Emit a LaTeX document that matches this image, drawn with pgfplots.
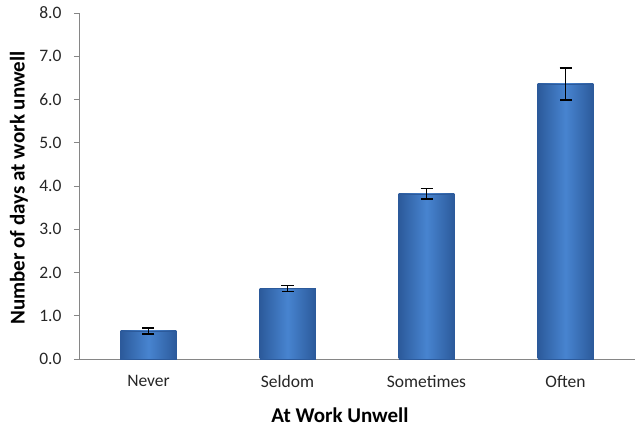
\documentclass[border=0pt]{standalone}
\usepackage{fontspec}
\setmainfont{Carlito}
\usepackage{pgfplots}
\pgfplotsset{compat=1.18}
\usetikzlibrary{calc}
\definecolor{axgray}{RGB}{134,134,134}
\definecolor{bedge}{RGB}{44,90,155}
\definecolor{bmid}{RGB}{72,132,208}
\tikzset{mybar/.style={draw=bedge, left color=bedge, right color=bedge, middle color=bmid}}
\begin{document}
\begin{tikzpicture}
\begin{axis}[
  scale only axis,
  width=556pt, height=346pt,
  ybar, bar width=0.40, bar shift=0pt,
  xmin=-0.5, xmax=3.5,
  ymin=0, ymax=8,
  ytick={0,1,...,8},
  xtick={0,1,2,3},
  xticklabels={Never,Seldom,Sometimes,Often},
  extra x ticks={0.5,1.5,2.5},
  extra x tick labels={},
  extra x tick style={tick style={axgray, line width=0.9pt}},
  x tick style={draw=none},
  y tick style={axgray, line width=0.9pt},
  major tick length=5pt,
  tick align=outside,
  axis x line*=bottom, axis y line*=left,
  axis line style={axgray, line width=0.9pt},
  /pgf/number format/assume math mode=true,
  ticklabel style={font=\fontsize{17.5}{20}\selectfont, text=black!85},
  yticklabel style={xshift=-9pt, /pgf/number format/.cd, fixed, fixed zerofill, precision=1},
  xlabel={\textbf{At Work Unwell}},
  ylabel={\textbf{Number of days at work unwell}},
  every axis x label/.style={at={(rel axis cs:0.5,0)}, xshift=-17pt, yshift=-56pt, anchor=center, font=\fontsize{21}{23}\selectfont},
  every axis y label/.style={at={(rel axis cs:0,0.5)}, xshift=-60pt, yshift=-2pt, rotate=90, anchor=center, font=\fontsize{21}{23}\selectfont},
  xticklabel style={yshift=-8pt},
  clip=false,
  error bars/y dir=both, error bars/y explicit,
  error bars/error bar style={black, line width=1.2pt},
  error bars/error mark options={black, line width=1.6pt, mark size=6pt, rotate=90},
]
\coordinate (o) at (rel axis cs:0,0);
\coordinate (t) at (rel axis cs:1,1);
\addplot[mybar] coordinates {(0,0.65) +- (0,0.07)};
\addplot[mybar] coordinates {(1,1.63) +- (0,0.07)};
\addplot[mybar] coordinates {(2,3.82) +- (0,0.12)};
\addplot[mybar] coordinates {(3,6.36) +- (0,0.37)};
\end{axis}
\pgfresetboundingbox
\path ($(o)+(-79pt,-71pt)$) rectangle ($(t)+(0,13pt)$);
\end{tikzpicture}
\end{document}
